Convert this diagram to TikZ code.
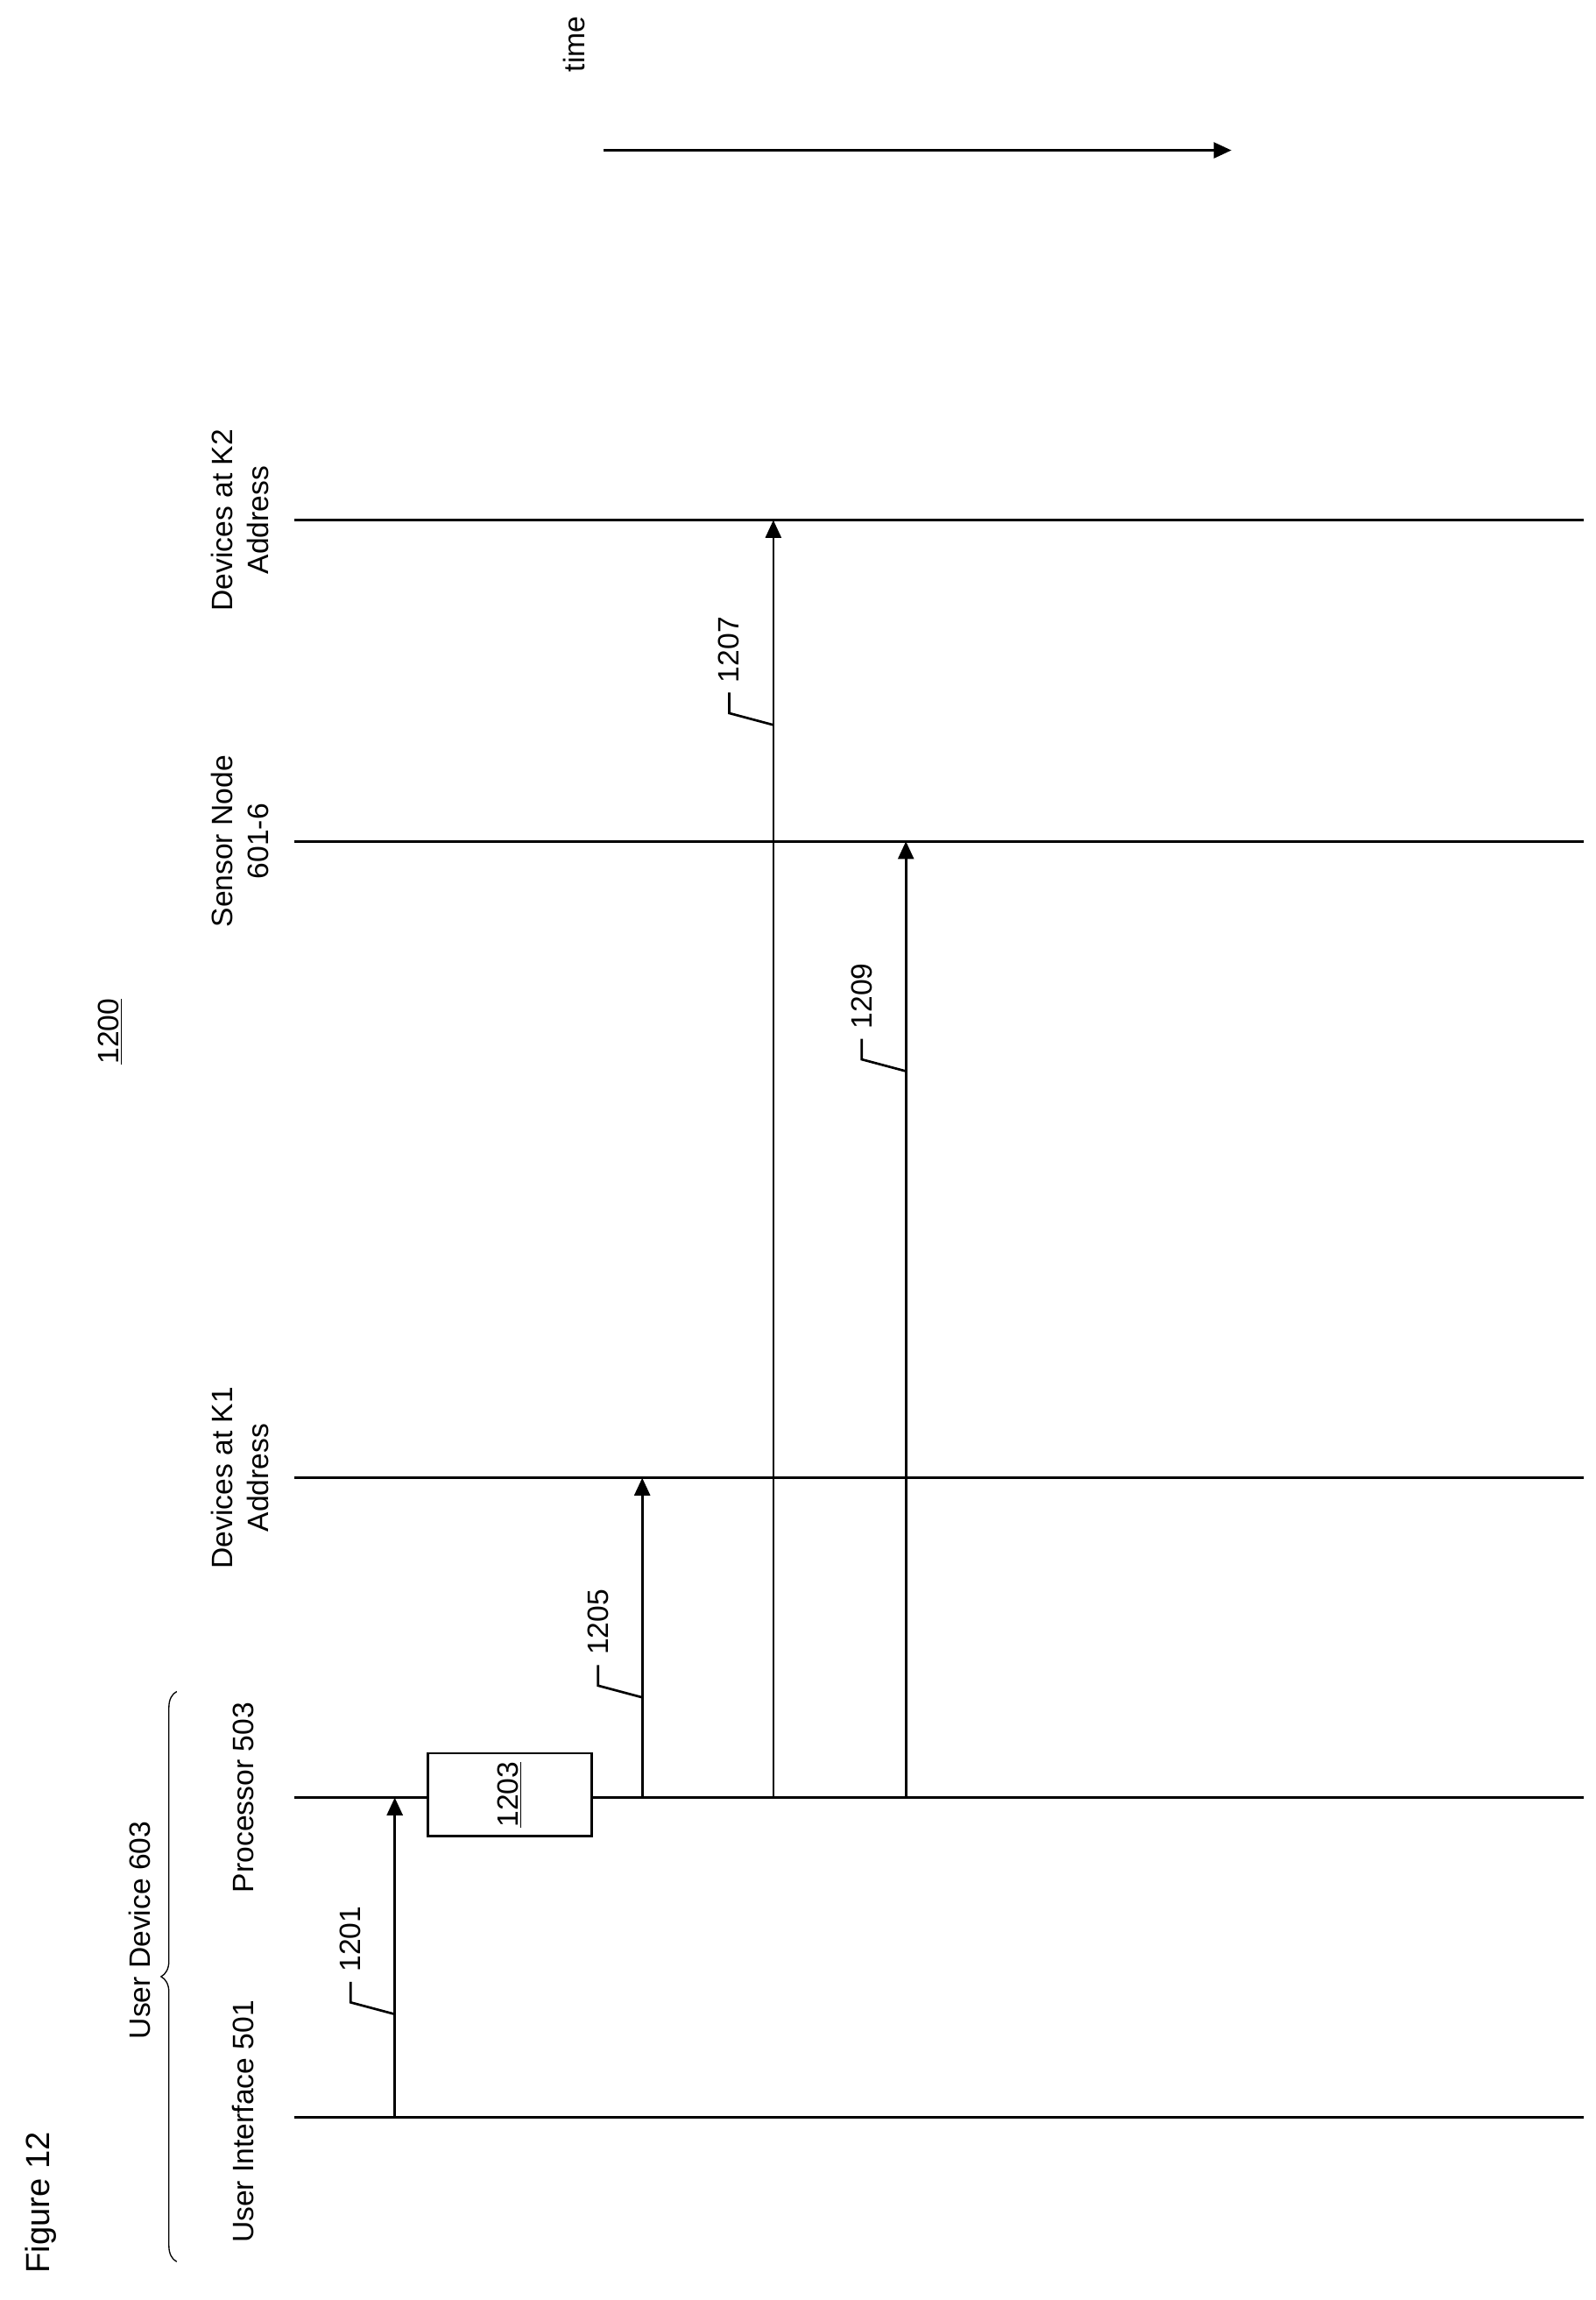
\documentclass[tikz,border=0pt]{standalone}
\usepackage{fontspec}
\setmainfont{Liberation Sans}
\usetikzlibrary{decorations.pathreplacing,arrows.meta}
\begin{document}
\begin{tikzpicture}[x=0.75pt,y=-0.75pt,
  lbl/.style={rotate=90,font=\fontsize{15}{18}\selectfont,align=center},
  life/.style={line width=1.2pt},
  msg/.style={line width=1.2pt,-{Triangle[length=9pt,width=8pt]}},
  lead/.style={line width=1.2pt}]
\useasboundingbox (0,0) rectangle (1083,1561);
% lifelines
\foreach \n/\y in {k2/353,sn/571,k1/1003,pr/1220,ui/1437}{
  \coordinate (\n L) at (200,\y); \coordinate (\n R) at (1075,\y);
  \draw[life] (\n L) -- (\n R);}
% labels
\node[lbl] (tui) at (165,1440) {User Interface 501};
\node[lbl] (tpr) at (165,1220) {Processor 503};
\node[lbl] (tk1) at (163,1003) {Devices at K1\\Address};
\node[lbl] (tsn) at (163,571) {Sensor Node\\601-6};
\node[lbl] (tk2) at (163,353) {Devices at K2\\Address};
\node[lbl] (tud) at (95,1310) {User Device 603};
\node[lbl,font=\fontsize{17}{20}\selectfont] (fig) at (28,1495) {Figure 12};
\node[lbl] (num) at (75,700) {\underline{1200}};
\node[lbl] (time) at (390,30) {time};
\coordinate (t0) at (410,102); \coordinate (t1) at (836,102);
\draw[msg] (t0) -- (t1);
\coordinate (b0) at (120,1535); \coordinate (b1) at (120,1148);
\draw[line width=0.6pt,decorate,decoration={brace,amplitude=8pt}] (b0) -- (b1);
% box 1203
\node[draw,line width=1.2pt,fill=white,minimum width=56*0.75pt,minimum height=111*0.75pt,lbl] (box) at (346,1218) {\underline{1203}};
% arrows
\foreach \x/\a/\b/\c/\ly/\t in {268/ui/pr/a1/1367/1201,436/pr/k1/a2/1152/1205,525/pr/k2/a3/492/1207,615/pr/sn/a4/727/1209}{
  \coordinate (\c s) at (\x,0); 
  \draw[msg] (\x,0 |- \a L) -- (\x,0 |- \b L);
  \coordinate (\c p) at (\x,\ly);
  \coordinate (\c q) at (\x-30,\ly-8);
  \coordinate (\c r) at (\x-30,\ly-22);
  \draw[lead] (\c p) -- (\c q) -- (\c r);
  \node[lbl,anchor=west] (\c t) at (\x-30,\ly-24) {\t};
}
\end{tikzpicture}
\end{document}
